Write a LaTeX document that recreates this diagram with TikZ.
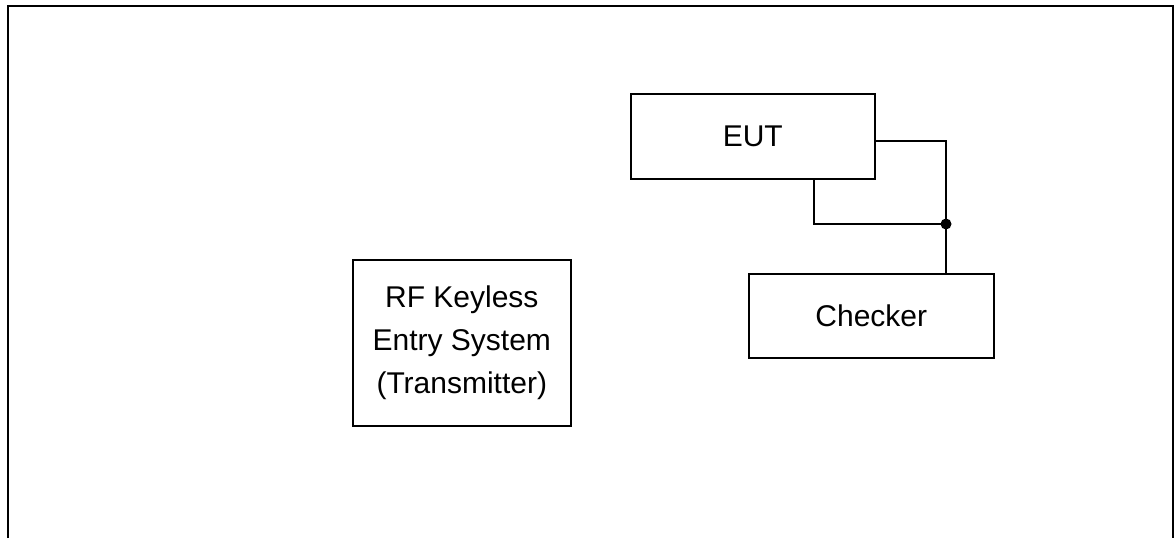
\documentclass[tikz,border=0pt]{standalone}
\usepackage{fontspec}
\setmainfont{Liberation Sans}
\begin{document}
\begin{tikzpicture}[x=1pt,y=-1pt,
  blk/.style={draw,line width=1.6pt,inner sep=0pt,anchor=north west,align=center,font=\fontsize{30}{43}\selectfont},
  wire/.style={line width=1.6pt}]
\useasboundingbox (0,0) rectangle (1175,538);
\draw[line width=2.2pt] (8,538) -- (8,6) -- (1173,6) -- (1173,538);
\node[blk,minimum width=244pt,minimum height=85pt] (eut) at (630,93) {EUT};
\node[blk,minimum width=245pt,minimum height=84pt] (chk) at (748,273) {Checker};
\node[blk,minimum width=218pt,minimum height=166pt] (rf) at (352,259) {RF Keyless\\Entry System\\(Transmitter)};
\coordinate (j) at (946,224);
\coordinate (tr) at (946,141);
\draw[wire] (eut.east |- tr) -- (tr) -- (j) -- (j |- chk.north);
\draw[wire] (814,178) -- (814,224) -- (j);
\fill (j) circle (5.5pt);
\end{tikzpicture}
\end{document}
